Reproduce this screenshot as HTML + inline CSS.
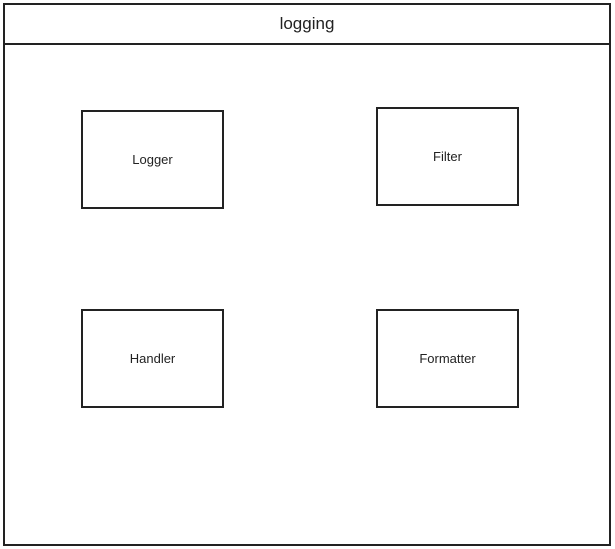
<!DOCTYPE html>
<html><head><style>
body{margin:0;width:615px;height:549px;background:#fff;position:relative;font-family:"Liberation Sans",sans-serif;color:#222}
.b{position:absolute;border:2px solid #222;box-sizing:border-box;display:flex;align-items:center;justify-content:center;font-size:13px}
</style></head><body>
<div class="b" style="left:3px;top:3px;width:608px;height:543px"></div>
<div style="position:absolute;left:3px;top:43px;width:608px;height:2px;background:#222"></div>
<div style="position:absolute;left:3px;top:5px;width:608px;height:38px;display:flex;align-items:center;justify-content:center;font-size:17px">logging</div>
<div class="b" style="left:81px;top:110px;width:143px;height:99px">Logger</div>
<div class="b" style="left:376px;top:107px;width:143px;height:99px">Filter</div>
<div class="b" style="left:81px;top:309px;width:143px;height:99px">Handler</div>
<div class="b" style="left:376px;top:309px;width:143px;height:99px">Formatter</div>
</body></html>
